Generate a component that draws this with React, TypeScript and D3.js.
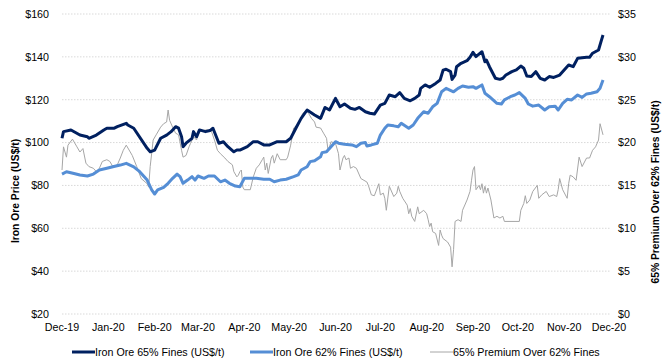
import React, { useEffect, useRef } from "react";
import * as d3 from "d3";

type Point = [string, number];

// Iron ore 65% fines, US$/t
const fines65: Point[] = [
  ["2019-12-01", 102.0], ["2019-12-02", 105.1], ["2019-12-07", 105.9], ["2019-12-13", 103.5],
  ["2019-12-18", 102.7], ["2019-12-19", 102.0], ["2019-12-24", 103.5], ["2019-12-29", 105.9],
  ["2019-12-31", 106.7], ["2020-01-05", 106.7], ["2020-01-07", 107.4], ["2020-01-13", 109.0],
  ["2020-01-14", 108.2], ["2020-01-18", 106.7], ["2020-01-27", 97.3], ["2020-01-29", 95.7],
  ["2020-02-01", 96.5], ["2020-02-05", 102.0], ["2020-02-09", 103.5], ["2020-02-12", 105.1],
  ["2020-02-15", 107.4], ["2020-02-17", 106.7], ["2020-02-19", 102.7], ["2020-02-20", 98.1],
  ["2020-02-22", 99.7], ["2020-02-26", 102.0], ["2020-02-27", 105.1], ["2020-02-29", 102.7],
  ["2020-03-02", 105.9], ["2020-03-06", 105.1], ["2020-03-09", 105.6], ["2020-03-11", 106.7],
  ["2020-03-15", 99.7], ["2020-03-18", 100.4], ["2020-03-21", 98.1], ["2020-03-25", 95.7],
  ["2020-03-27", 96.5], ["2020-03-29", 96.5], ["2020-04-03", 98.1], ["2020-04-07", 100.4],
  ["2020-04-10", 100.4], ["2020-04-14", 98.9], ["2020-04-18", 98.9], ["2020-04-23", 100.4],
  ["2020-04-29", 100.4], ["2020-05-02", 102.0], ["2020-05-06", 107.4], ["2020-05-09", 111.3],
  ["2020-05-13", 115.2], ["2020-05-18", 112.9], ["2020-05-22", 111.3], ["2020-05-25", 116.4],
  ["2020-05-28", 115.2], ["2020-06-01", 120.6], ["2020-06-04", 116.7], ["2020-06-07", 118.0],
  ["2020-06-11", 116.0], ["2020-06-14", 115.5], ["2020-06-17", 116.4], ["2020-06-21", 114.4],
  ["2020-06-24", 113.7], ["2020-06-27", 113.3], ["2020-07-01", 117.5], ["2020-07-04", 118.3],
  ["2020-07-07", 122.2], ["2020-07-11", 121.4], ["2020-07-14", 123.3], ["2020-07-17", 120.6],
  ["2020-07-21", 119.5], ["2020-07-24", 120.6], ["2020-07-27", 122.2], ["2020-07-28", 125.3],
  ["2020-07-31", 126.9], ["2020-08-03", 125.8], ["2020-08-07", 127.6], ["2020-08-10", 129.2],
  ["2020-08-12", 133.8], ["2020-08-14", 134.2], ["2020-08-17", 133.1], ["2020-08-18", 129.5],
  ["2020-08-20", 131.5], ["2020-08-21", 135.4], ["2020-08-24", 137.0], ["2020-08-28", 138.2],
  ["2020-08-30", 139.8], ["2020-09-01", 142.1], ["2020-09-03", 140.1], ["2020-09-07", 142.4],
  ["2020-09-09", 137.7], ["2020-09-10", 138.5], ["2020-09-12", 135.4], ["2020-09-16", 130.0],
  ["2020-09-19", 129.5], ["2020-09-21", 130.0], ["2020-09-23", 131.5], ["2020-09-27", 133.1],
  ["2020-09-30", 133.9], ["2020-10-03", 135.7], ["2020-10-05", 134.7], ["2020-10-07", 131.1],
  ["2020-10-10", 130.8], ["2020-10-13", 133.1], ["2020-10-16", 130.0], ["2020-10-19", 129.2],
  ["2020-10-22", 130.8], ["2020-10-25", 130.4], ["2020-10-29", 131.5], ["2020-11-01", 133.9],
  ["2020-11-04", 136.2], ["2020-11-07", 135.4], ["2020-11-10", 139.3], ["2020-11-16", 139.8],
  ["2020-11-18", 139.8], ["2020-11-20", 141.7], ["2020-11-24", 143.2], ["2020-11-26", 147.9],
  ["2020-11-27", 150.2],
];

// Iron ore 62% fines, US$/t
const fines62: Point[] = [
  ["2019-12-01", 85.3], ["2019-12-04", 86.4], ["2019-12-09", 85.6], ["2019-12-13", 84.9],
  ["2019-12-18", 84.4], ["2019-12-22", 85.3], ["2019-12-26", 87.2], ["2019-12-31", 88.0],
  ["2020-01-04", 88.7], ["2020-01-09", 89.5], ["2020-01-13", 90.3], ["2020-01-18", 88.7],
  ["2020-01-22", 86.4], ["2020-01-27", 82.5], ["2020-01-30", 77.9], ["2020-02-01", 76.0],
  ["2020-02-03", 77.9], ["2020-02-07", 79.1], ["2020-02-10", 81.0], ["2020-02-13", 83.3],
  ["2020-02-16", 85.3], ["2020-02-18", 84.1], ["2020-02-20", 81.0], ["2020-02-23", 82.5],
  ["2020-02-26", 84.1], ["2020-02-28", 82.5], ["2020-03-01", 84.4], ["2020-03-05", 83.3],
  ["2020-03-08", 84.4], ["2020-03-12", 84.4], ["2020-03-16", 81.7], ["2020-03-19", 82.5],
  ["2020-03-22", 81.0], ["2020-03-26", 79.7], ["2020-03-29", 79.4], ["2020-04-01", 83.3],
  ["2020-04-05", 83.3], ["2020-04-09", 83.3], ["2020-04-14", 82.9], ["2020-04-18", 82.9],
  ["2020-04-21", 81.7], ["2020-04-25", 82.5], ["2020-04-29", 82.9], ["2020-05-04", 84.1],
  ["2020-05-07", 84.9], ["2020-05-09", 87.2], ["2020-05-13", 88.7], ["2020-05-15", 91.1],
  ["2020-05-18", 91.5], ["2020-05-22", 93.4], ["2020-05-23", 95.3], ["2020-05-26", 95.7],
  ["2020-05-29", 98.1], ["2020-06-01", 100.4], ["2020-06-03", 99.7], ["2020-06-07", 99.2],
  ["2020-06-12", 98.9], ["2020-06-15", 98.1], ["2020-06-18", 99.7], ["2020-06-21", 100.0],
  ["2020-06-22", 98.4], ["2020-06-25", 98.9], ["2020-06-29", 99.7], ["2020-07-01", 103.5],
  ["2020-07-04", 106.7], ["2020-07-06", 108.2], ["2020-07-10", 107.8], ["2020-07-13", 107.4],
  ["2020-07-15", 109.0], ["2020-07-20", 106.7], ["2020-07-23", 108.2], ["2020-07-26", 111.3],
  ["2020-07-30", 114.4], ["2020-08-02", 113.7], ["2020-08-05", 116.7], ["2020-08-08", 118.3],
  ["2020-08-11", 123.7], ["2020-08-14", 125.3], ["2020-08-19", 123.7], ["2020-08-22", 125.3],
  ["2020-08-25", 126.4], ["2020-08-29", 125.8], ["2020-09-01", 126.1], ["2020-09-03", 125.3],
  ["2020-09-07", 126.9], ["2020-09-09", 123.0], ["2020-09-12", 121.4], ["2020-09-17", 118.3],
  ["2020-09-20", 118.0], ["2020-09-22", 119.9], ["2020-09-26", 121.4], ["2020-09-29", 122.2],
  ["2020-10-02", 123.3], ["2020-10-06", 120.6], ["2020-10-08", 118.0], ["2020-10-11", 117.0],
  ["2020-10-15", 117.5], ["2020-10-19", 115.2], ["2020-10-22", 116.7], ["2020-10-26", 117.0],
  ["2020-10-28", 115.2], ["2020-10-31", 118.3], ["2020-11-03", 120.2], ["2020-11-06", 119.9],
  ["2020-11-10", 122.2], ["2020-11-13", 121.1], ["2020-11-16", 122.7], ["2020-11-19", 123.0],
  ["2020-11-23", 123.7], ["2020-11-25", 125.3], ["2020-11-27", 129.2],
];

// 65% premium over 62% fines, US$/t (right axis)
const premium: Point[] = [
  ["2019-12-01", 16.8], ["2019-12-02", 19.5], ["2019-12-04", 18.3], ["2019-12-05", 19.7],
  ["2019-12-08", 20.4], ["2019-12-11", 19.5], ["2019-12-13", 18.9], ["2019-12-15", 19.3],
  ["2019-12-17", 17.6], ["2019-12-19", 17.2], ["2019-12-22", 17.0], ["2019-12-24", 16.6],
  ["2019-12-26", 17.0], ["2019-12-28", 17.8], ["2019-12-31", 18.0], ["2020-01-02", 17.8],
  ["2020-01-04", 17.2], ["2020-01-07", 17.4], ["2020-01-09", 18.2], ["2020-01-11", 19.1],
  ["2020-01-13", 19.7], ["2020-01-17", 18.5], ["2020-01-20", 17.2], ["2020-01-23", 15.8],
  ["2020-01-27", 15.2], ["2020-01-28", 14.8], ["2020-01-29", 17.2], ["2020-01-31", 20.3],
  ["2020-02-02", 20.9], ["2020-02-05", 21.8], ["2020-02-07", 22.2], ["2020-02-09", 22.4],
  ["2020-02-10", 23.8], ["2020-02-11", 22.6], ["2020-02-13", 21.8], ["2020-02-15", 21.1],
  ["2020-02-17", 20.9], ["2020-02-19", 19.1], ["2020-02-20", 18.3], ["2020-02-22", 18.5],
  ["2020-02-24", 19.5], ["2020-02-25", 19.9], ["2020-02-27", 20.7], ["2020-02-29", 20.3],
  ["2020-03-02", 21.3], ["2020-03-07", 21.5], ["2020-03-10", 21.3], ["2020-03-12", 20.3],
  ["2020-03-14", 19.1], ["2020-03-16", 18.7], ["2020-03-19", 18.2], ["2020-03-21", 17.8],
  ["2020-03-24", 17.4], ["2020-03-25", 16.6], ["2020-03-27", 16.0], ["2020-03-28", 16.2],
  ["2020-03-29", 16.6], ["2020-03-30", 16.8], ["2020-03-31", 14.8], ["2020-04-01", 14.5],
  ["2020-04-05", 14.5], ["2020-04-07", 16.0], ["2020-04-09", 17.0], ["2020-04-11", 17.4],
  ["2020-04-13", 18.0], ["2020-04-14", 18.3], ["2020-04-15", 16.8], ["2020-04-16", 17.6],
  ["2020-04-17", 16.4], ["2020-04-19", 18.2], ["2020-04-20", 18.5], ["2020-04-21", 17.6],
  ["2020-04-23", 18.7], ["2020-04-25", 18.0], ["2020-04-29", 18.0], ["2020-04-30", 18.3],
  ["2020-05-02", 19.7], ["2020-05-03", 20.7], ["2020-05-04", 21.7], ["2020-05-06", 22.0],
  ["2020-05-08", 22.4], ["2020-05-10", 23.4], ["2020-05-13", 23.9], ["2020-05-14", 23.4],
  ["2020-05-16", 22.8], ["2020-05-18", 22.4], ["2020-05-19", 21.8], ["2020-05-22", 21.7],
  ["2020-05-24", 21.1], ["2020-05-26", 20.5], ["2020-05-27", 19.1], ["2020-05-28", 19.5],
  ["2020-05-29", 20.1], ["2020-06-01", 19.9], ["2020-06-03", 18.7], ["2020-06-04", 16.8],
  ["2020-06-06", 18.2], ["2020-06-07", 18.5], ["2020-06-08", 18.0], ["2020-06-10", 18.2],
  ["2020-06-11", 17.0], ["2020-06-13", 17.2], ["2020-06-15", 17.0], ["2020-06-18", 15.8],
  ["2020-06-22", 15.4], ["2020-06-23", 15.0], ["2020-06-25", 13.9], ["2020-06-27", 13.8],
  ["2020-06-30", 15.2], ["2020-07-01", 13.9], ["2020-07-03", 14.1], ["2020-07-04", 13.5],
  ["2020-07-05", 12.1], ["2020-07-07", 14.9], ["2020-07-10", 13.7], ["2020-07-12", 14.1],
  ["2020-07-13", 14.9], ["2020-07-14", 14.3], ["2020-07-16", 13.5], ["2020-07-19", 12.7],
  ["2020-07-20", 11.7], ["2020-07-21", 12.3], ["2020-07-22", 11.4], ["2020-07-24", 10.8],
  ["2020-07-26", 12.5], ["2020-07-27", 11.7], ["2020-07-30", 12.1], ["2020-08-01", 11.7],
  ["2020-08-02", 11.0], ["2020-08-03", 10.2], ["2020-08-04", 10.6], ["2020-08-05", 9.6],
  ["2020-08-07", 9.4], ["2020-08-09", 8.0], ["2020-08-10", 9.8], ["2020-08-11", 9.2],
  ["2020-08-12", 8.8], ["2020-08-15", 8.4], ["2020-08-17", 7.8], ["2020-08-18", 5.5],
  ["2020-08-19", 7.5], ["2020-08-20", 10.8], ["2020-08-22", 11.0], ["2020-08-24", 10.8],
  ["2020-08-25", 12.1], ["2020-08-28", 13.3], ["2020-08-30", 14.3], ["2020-08-31", 15.6],
  ["2020-09-01", 16.8], ["2020-09-02", 17.2], ["2020-09-03", 14.5], ["2020-09-05", 15.0],
  ["2020-09-06", 14.5], ["2020-09-07", 15.2], ["2020-09-08", 14.1], ["2020-09-09", 14.9],
  ["2020-09-10", 14.1], ["2020-09-11", 14.7], ["2020-09-13", 13.3], ["2020-09-15", 11.2],
  ["2020-09-17", 11.4], ["2020-09-19", 11.2], ["2020-09-21", 11.4], ["2020-09-22", 10.8],
  ["2020-10-02", 10.8], ["2020-10-03", 12.1], ["2020-10-05", 12.9], ["2020-10-06", 13.8],
  ["2020-10-07", 12.9], ["2020-10-09", 13.3], ["2020-10-11", 14.3], ["2020-10-14", 15.0],
  ["2020-10-15", 13.5], ["2020-10-17", 13.9], ["2020-10-20", 14.3], ["2020-10-22", 13.7],
  ["2020-10-25", 13.9], ["2020-10-27", 13.7], ["2020-10-28", 14.5], ["2020-10-29", 15.8],
  ["2020-10-31", 14.5], ["2020-11-03", 13.5], ["2020-11-04", 15.2], ["2020-11-05", 16.2],
  ["2020-11-07", 16.0], ["2020-11-09", 15.6], ["2020-11-11", 18.3], ["2020-11-13", 17.2],
  ["2020-11-16", 18.2], ["2020-11-18", 18.2], ["2020-11-20", 19.1], ["2020-11-22", 19.5],
  ["2020-11-24", 20.3], ["2020-11-25", 22.2], ["2020-11-27", 20.9],
];

const monthTicks = [
  "2019-12-01", "2020-01-01", "2020-02-01", "2020-03-01", "2020-04-01", "2020-05-01", "2020-06-01",
  "2020-07-01", "2020-08-01", "2020-09-01", "2020-10-01", "2020-11-01", "2020-12-01",
];
const priceTicks = [20, 40, 60, 80, 100, 120, 140, 160];
const premiumTicks = [0, 5, 10, 15, 20, 25, 30, 35];

const legendItems = [
  { label: "Iron Ore 65% Fines (US$/t)", color: "#002060", width: 3 },
  { label: "Iron Ore 62% Fines (US$/t)", color: "#558ED5", width: 3 },
  { label: "65% Premium Over 62% Fines", color: "#A6A6A6", width: 1 },
];

const WIDTH = 667;
const HEIGHT = 364;
const FONT = "'Liberation Sans', Arial, sans-serif";

const App: React.FC = () => {
  const svgRef = useRef<SVGSVGElement | null>(null);

  useEffect(() => {
    document.body.style.margin = "0";
    if (!svgRef.current) return;

    const parse = d3.timeParse("%Y-%m-%d");
    const left = 62;
    const right = 609;
    const top = 14;
    const bottom = 314;

    const x = d3
      .scaleTime()
      .domain([parse(monthTicks[0])!, parse(monthTicks[monthTicks.length - 1])!])
      .range([left, right]);
    const yPrice = d3.scaleLinear().domain([20, 160]).range([bottom, top]);
    const yPrem = d3.scaleLinear().domain([0, 35]).range([bottom, top]);

    const svg = d3.select(svgRef.current);
    svg.selectAll("*").remove();

    // grid
    svg
      .append("g")
      .selectAll("line")
      .data(priceTicks)
      .enter()
      .append("line")
      .attr("x1", left)
      .attr("x2", right + 1)
      .attr("y1", (d) => yPrice(d))
      .attr("y2", (d) => yPrice(d))
      .attr("stroke", "#D9D9D9")
      .attr("stroke-width", 1)
      .attr("stroke-dasharray", "1.5,1.5");

    const text = (g: d3.Selection<SVGGElement, unknown, null, undefined>) =>
      g.attr("font-family", FONT).attr("font-size", 10.7).attr("fill", "#000");

    // left axis labels
    svg
      .append("g")
      .call(text)
      .selectAll("text")
      .data(priceTicks)
      .enter()
      .append("text")
      .attr("x", 49)
      .attr("y", (d) => yPrice(d))
      .attr("dy", "0.36em")
      .attr("text-anchor", "end")
      .text((d) => `$${d}`);

    // right axis labels
    svg
      .append("g")
      .call(text)
      .selectAll("text")
      .data(premiumTicks)
      .enter()
      .append("text")
      .attr("x", 618)
      .attr("y", (d) => yPrem(d))
      .attr("dy", "0.36em")
      .text((d) => `$${d}`);

    // x axis labels
    const fmt = d3.timeFormat("%b-%y");
    svg
      .append("g")
      .call(text)
      .selectAll("text")
      .data(monthTicks)
      .enter()
      .append("text")
      .attr("x", (d) => x(parse(d)!))
      .attr("y", 331)
      .attr("text-anchor", "middle")
      .text((d) => fmt(parse(d)!));

    // axis titles
    svg
      .append("text")
      .attr("transform", `translate(18.5, 191) rotate(-90)`)
      .attr("text-anchor", "middle")
      .attr("font-family", FONT)
      .attr("font-size", 10.3)
      .attr("font-weight", "bold")
      .text("Iron Ore Price (US$/t)");

    svg
      .append("text")
      .attr("transform", `translate(658.5, 192) rotate(-90)`)
      .attr("text-anchor", "middle")
      .attr("font-family", FONT)
      .attr("font-size", 10.3)
      .attr("font-weight", "bold")
      .text("65% Premium Over 62% Fines (US$/t)");

    // series
    const lineFor = (scale: d3.ScaleLinear<number, number>) =>
      d3
        .line<Point>()
        .x((d) => x(parse(d[0])!))
        .y((d) => scale(d[1]));

    svg
      .append("path")
      .datum(premium)
      .attr("fill", "none")
      .attr("stroke", legendItems[2].color)
      .attr("stroke-width", 1)
      .attr("d", lineFor(yPrem));

    svg
      .append("path")
      .datum(fines62)
      .attr("fill", "none")
      .attr("stroke", legendItems[1].color)
      .attr("stroke-width", 3)
      .attr("stroke-linejoin", "round")
      .attr("d", lineFor(yPrice));

    svg
      .append("path")
      .datum(fines65)
      .attr("fill", "none")
      .attr("stroke", legendItems[0].color)
      .attr("stroke-width", 3)
      .attr("stroke-linejoin", "round")
      .attr("d", lineFor(yPrice));

    // legend
    const legendX = [72, 250, 430];
    const lg = svg
      .append("g")
      .selectAll("g")
      .data(legendItems)
      .enter()
      .append("g")
      .attr("transform", (d, i) => `translate(${legendX[i]}, 352)`);

    lg.append("line")
      .attr("x1", 0)
      .attr("x2", 23)
      .attr("stroke", (d) => d.color)
      .attr("stroke-width", (d) => d.width);

    lg.append("text")
      .attr("x", 23)
      .attr("dy", "0.36em")
      .attr("font-family", FONT)
      .attr("font-size", 10.7)
      .text((d) => d.label);
  }, []);

  return (
    <svg
      ref={svgRef}
      width={WIDTH}
      height={HEIGHT}
      style={{ display: "block", background: "#fff" }}
    />
  );
};

export default App;
